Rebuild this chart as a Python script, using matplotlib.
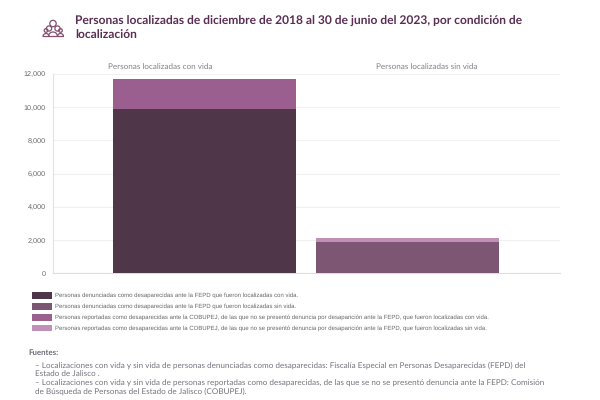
import matplotlib
matplotlib.use("Agg")
import matplotlib.pyplot as plt
from matplotlib.patches import Circle, Rectangle, Wedge
import numpy as np

plt.rcParams["text.hinting"] = "no_hinting"

categories = ["Personas localizadas con vida", "Personas localizadas sin vida"]
denunciadas_con_vida = [9900, 0]
denunciadas_sin_vida = [0, 1885]
reportadas_con_vida = [1810, 0]
reportadas_sin_vida = [0, 240]
yticks = [0, 2000, 4000, 6000, 8000, 10000, 12000]

series_colors = ["#4f3649", "#7d5674", "#9a5f8f", "#c190b8"]
legend_labels = [
    "Personas denunciadas como desaparecidas ante la FEPD que fueron localizadas con vida.",
    "Personas denunciadas como desaparecidas ante la FEPD que fueron localizadas sin vida.",
    "Personas reportadas como desaparecidas ante la COBUPEJ, de las que no se presentó denuncia por desaparición ante la FEPD, que fueron localizadas con vida.",
    "Personas reportadas como desaparecidas ante la COBUPEJ, de las que no se presentó denuncia por desaparición ante la FEPD, que fueron localizadas sin vida.",
]
title_lines = [
    "Personas localizadas de diciembre de 2018 al 30 de junio del 2023, por condición de",
    "localización",
]
source_lines = [
    "– Localizaciones con vida y sin vida de personas denunciadas como desaparecidas: Fiscalía Especial en Personas Desaparecidas (FEPD) del",
    "Estado de Jalisco .",
    "– Localizaciones con vida y sin vida de personas reportadas como desaparecidas, de las que se no se presentó denuncia ante la FEPD: Comisión",
    "de Búsqueda de Personas del Estado de Jalisco (COBUPEJ).",
]

W, H = 600, 400
fig = plt.figure(figsize=(W / 100, H / 100), dpi=100)

def fx(px):
    return px / W

def fy(py):
    return 1 - py / H

# main plot area, in pixels
ax = fig.add_axes([fx(52.5), fy(273.3), (559.5 - 52.5) / W, (273.3 - 74) / H])
x = np.arange(len(categories))
bottom = np.zeros(2)
for vals, col in zip([denunciadas_con_vida, denunciadas_sin_vida, reportadas_con_vida, reportadas_sin_vida], series_colors):
    ax.bar(x, vals, width=0.9, bottom=bottom, color=col, zorder=3)
    bottom = bottom + np.array(vals)

ax.set_xlim(-0.749, 1.749)
ax.set_ylim(0, 12000)
ax.set_yticks(yticks)
ax.set_yticklabels([f"{v:,}" for v in yticks], fontsize=5.2, color="#666666", family="Liberation Sans")
ax.set_xticks([])
ax.tick_params(axis="y", length=0, pad=5)
ax.grid(axis="y", color="#f0f0f0", linewidth=0.8, zorder=0)
for side in ["top", "right"]:
    ax.spines[side].set_visible(False)
ax.spines["left"].set_color("#e2e2e2")
ax.spines["bottom"].set_color("#dedede")

# facet headings sit at the middle of each half of the plot
for c, px in zip(categories, [160.5, 426.7]):
    fig.text(fx(px), fy(66.5), c, ha="center", va="center", fontsize=5.9, color="#85808a", family="Lato")

# title
for line, py in zip(title_lines, [21.5, 35.5]):
    fig.text(fx(75), fy(py), line, fontsize=8.65, fontweight="bold", color="#5a2d52", family="Lato", va="center")

# people icon next to the title
icon = fig.add_axes([fx(42), fy(38), 22 / W, 20 / H])
icon.set_xlim(0, 22)
icon.set_ylim(20, 0)
icon.axis("off")
for cx, cy, r in [(11, 5.5, 3.2), (7, 10.5, 2.6), (15.5, 10.5, 2.6), (4, 12.5, 1.8), (18.5, 12.5, 1.8)]:
    icon.add_patch(Circle((cx, cy), r, fc="none", ec="#84506f", lw=0.9))
for cx, cy, r in [(4, 18.5, 3), (11, 18.5, 4.5), (18.5, 18.5, 3)]:
    icon.add_patch(Wedge((cx, cy), r, 180, 360, fc="none", ec="#84506f", lw=0.9))

# legend rows
for py, col, label in zip([295.3, 306.5, 317.3, 328], series_colors, legend_labels):
    fig.add_artist(Rectangle((fx(32), fy(py + 3.3)), 20 / W, 6.6 / H, transform=fig.transFigure, fc=col, ec="none"))
    fig.text(fx(55), fy(py), label, fontsize=4.32, color="#666666", family="Liberation Sans", va="center")

# sources
fig.text(fx(28), fy(353), "Fuentes:", fontsize=5.7, fontweight="bold", color="#6e6a78", family="Lato", va="center")
for line, py in zip(source_lines, [365.5, 373.5, 383.5, 391.5]):
    fig.text(fx(35), fy(py), line, fontsize=5.9, color="#77737f", family="Lato", va="center")

fig.savefig("out.png", dpi=100)
